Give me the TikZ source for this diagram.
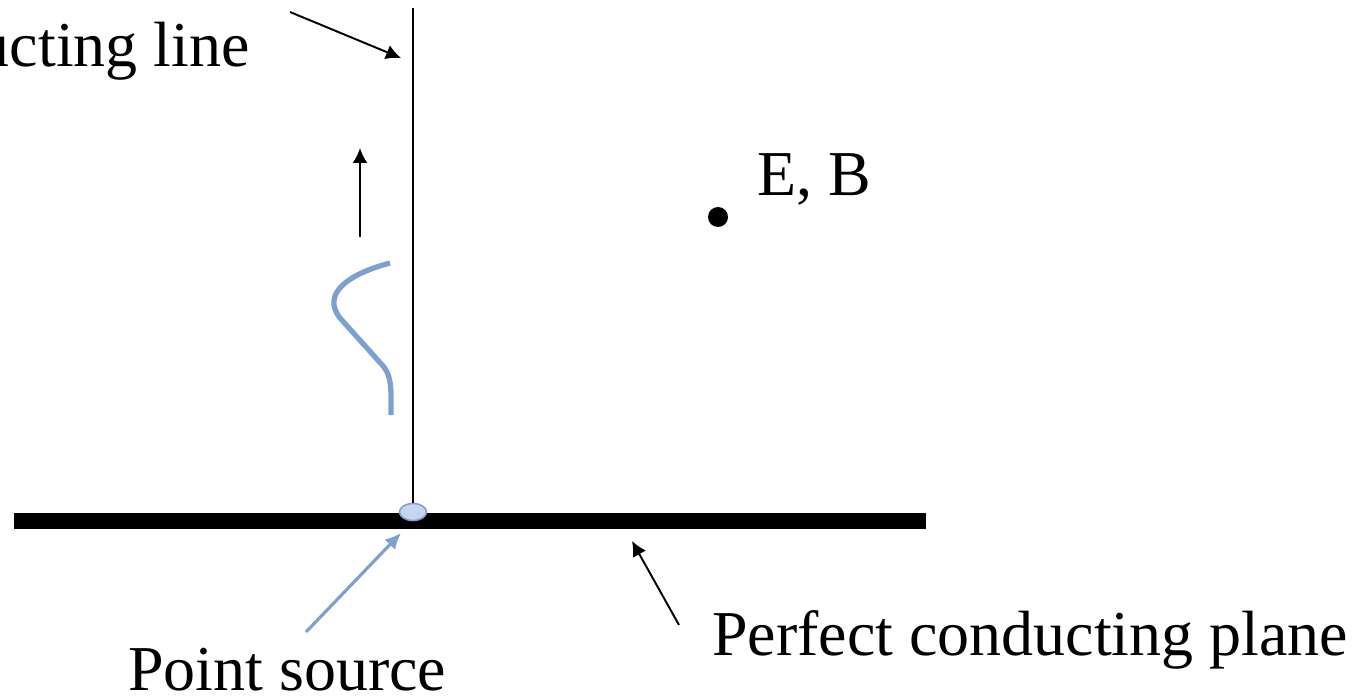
\documentclass[tikz,border=0pt]{standalone}
\usepackage{fontspec}
\setmainfont{Liberation Serif}
\newfontfamily\labfont{Liberation Serif}
\usetikzlibrary{arrows.meta,shapes.geometric}
\definecolor{wavepale}{RGB}{125,160,208}
\definecolor{srcfill}{RGB}{197,213,237}
\tikzset{
  wire/.style={black,line width=1.1pt},
  plate/.style={black,line width=9.5pt},
  flow/.style={-{Latex[length=3mm,width=3mm]},black,line width=1.1pt},
  blueflow/.style={-{Latex[length=3.2mm,width=3mm]},wavepale,line width=1.8pt},
  wave/.style={wavepale,line width=3pt},
  source/.style={ellipse,draw=wavepale,line width=0.9pt,fill=srcfill,
                 minimum width=5.4mm,minimum height=3.4mm,inner sep=0pt},
  probe/.style={circle,fill=black,minimum size=4mm,inner sep=0pt},
  lab/.style={font=\labfont\fontsize{36.4}{40}\selectfont,inner sep=0pt},
}
\begin{document}
\begin{tikzpicture}[x=0.02cm,y=-0.02cm]
  \path[use as bounding box] (0,0) rectangle (1365,696);

  % conducting plane and line
  \coordinate (planeL) at (14,521);
  \coordinate (planeR) at (926,521);
  \draw[plate] (planeL) -- (planeR);
  \coordinate (linetop) at (413,8);
  \node[source] (src) at (413,512) {};
  \draw[wire] (linetop) -- (src.north);

  % wave travelling up the line
  \coordinate (wavetop) at (390,263);
  \coordinate (wavefoot) at (391,415);
  \draw[wave] (wavetop) .. controls (345,275) and (322,295) .. (340,318)
    -- (384,367) .. controls (392,378) and (391,390) .. (wavefoot);
  \coordinate (uptail) at (360,237);
  \coordinate (uptip) at (360,148);
  \draw[flow] (uptail) -- (uptip);

  % field point
  \node[probe] (fieldpt) at (718,217) {};
  \node[lab,anchor=base west] (fieldlab) at (757,195) {E, B};

  % labels
  \node[lab,anchor=base east] (linelab) at (250,67) {Perfect conducting line};
  \coordinate (linetail) at (290,12);
  \coordinate (linehit) at (401,58);
  \draw[flow] (linetail) -- (linehit);

  \node[lab,anchor=base west] (planelab) at (712,655) {Perfect conducting plane};
  \coordinate (planetail) at (679,625);
  \coordinate (planehit) at (632,541);
  \draw[flow] (planetail) -- (planehit);

  \node[lab,anchor=base west] (srclab) at (128,690) {Point source};
  \coordinate (srctail) at (306,632);
  \coordinate (srchit) at (401,533);
  \draw[blueflow] (srctail) -- (srchit);
\end{tikzpicture}
\end{document}
